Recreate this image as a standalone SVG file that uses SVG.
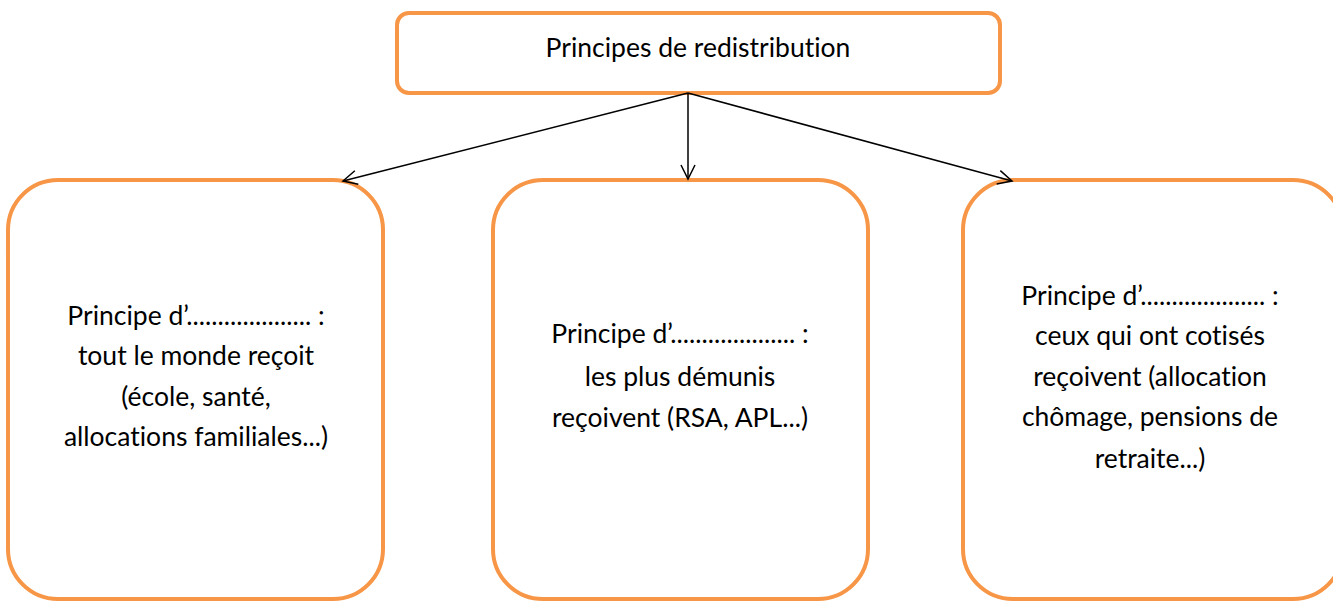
<svg xmlns="http://www.w3.org/2000/svg" width="1333" height="601" viewBox="0 0 1333 601">
<style>
.box{fill:#fff;stroke:#F79646;stroke-width:4}
.t{font-family:Lato,"Open Sans","Liberation Sans",sans-serif;font-size:26.5px;fill:#000;text-anchor:middle;font-variant-ligatures:none}
.c{stroke:#000;stroke-width:1.5;fill:none}
</style>
<defs>
<marker id="ah" markerWidth="20" markerHeight="20" refX="16" refY="8" orient="auto" markerUnits="userSpaceOnUse">
<path d="M2,1 L16,8 L2,15" fill="none" stroke="#000" stroke-width="1.5"/>
</marker>
</defs>
<rect width="1333" height="601" fill="#fff"/>
<g id="top">
<rect class="box" x="397" y="13" width="603" height="80" rx="12"/>
<text class="t" x="698" y="57">Principes de redistribution</text>
</g>
<g id="left">
<rect class="box" x="8" y="180" width="375" height="419" rx="50"/>
<text class="t" x="196" y="325">Principe d’.................... :</text>
<text class="t" x="196" y="365">tout le monde reçoit</text>
<text class="t" x="196" y="406">(école, santé,</text>
<text class="t" x="196" y="446">allocations familiales...)</text>
</g>
<g id="middle">
<rect class="box" x="493" y="180" width="375" height="419" rx="50"/>
<text class="t" x="680" y="343">Principe d’.................... :</text>
<text class="t" x="680" y="386">les plus démunis</text>
<text class="t" x="680" y="427">reçoivent (RSA, APL...)</text>
</g>
<g id="right">
<rect class="box" x="963" y="180" width="380" height="419" rx="50"/>
<text class="t" x="1150" y="305">Principe d’.................... :</text>
<text class="t" x="1150" y="345">ceux qui ont cotisés</text>
<text class="t" x="1150" y="386">reçoivent (allocation</text>
<text class="t" x="1150" y="426">chômage, pensions de</text>
<text class="t" x="1150" y="468">retraite...)</text>
</g>
<g id="connectors">
<line class="c" x1="688" y1="93" x2="343" y2="181" marker-end="url(#ah)"/>
<line class="c" x1="688" y1="93" x2="688" y2="179" marker-end="url(#ah)"/>
<line class="c" x1="688" y1="93" x2="1012" y2="181" marker-end="url(#ah)"/>
</g>
</svg>
